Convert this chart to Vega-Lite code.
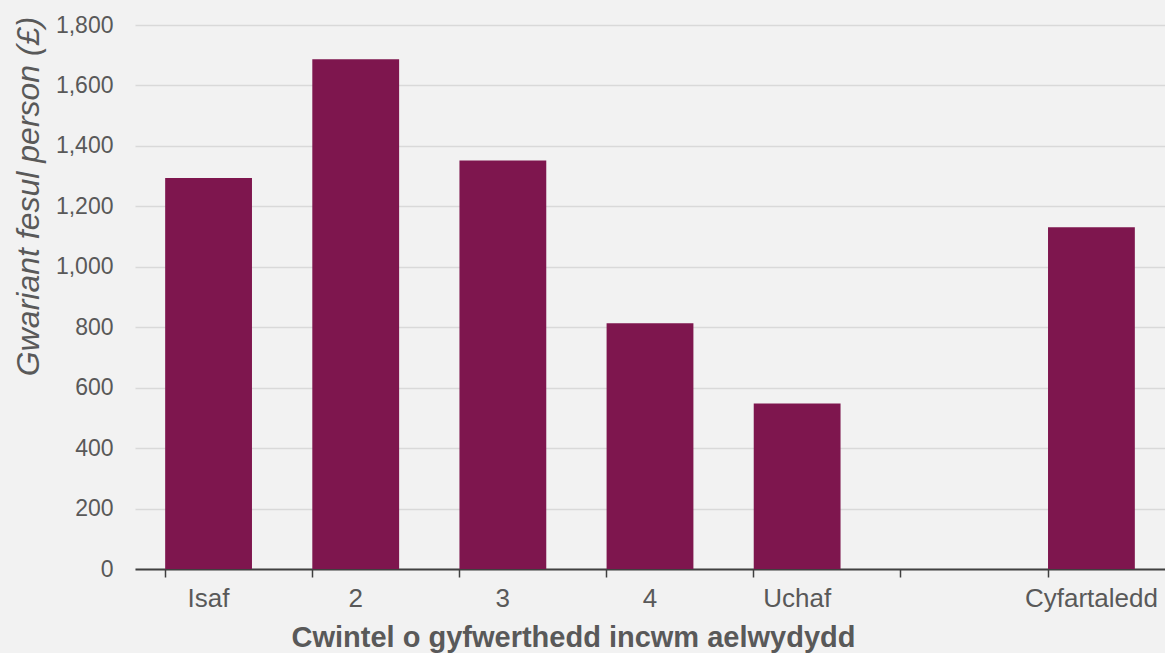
{
  "$schema": "https://vega.github.io/schema/vega-lite/v6.json",
  "autosize": {"type": "none"},
  "width": 1030,
  "height": 544,
  "padding": {"left": 135, "top": 25, "right": 0, "bottom": 84},
  "background": "#f2f2f2",
  "config": {
    "view": {"stroke": null},
    "font": "Liberation Sans"
  },
  "data": {
    "values": [
      {"cwintel": "Isaf", "gwariant": 1294},
      {"cwintel": "2", "gwariant": 1687},
      {"cwintel": "3", "gwariant": 1352},
      {"cwintel": "4", "gwariant": 813},
      {"cwintel": "Uchaf", "gwariant": 548},
      {"cwintel": "Cyfartaledd", "gwariant": 1131}
    ]
  },
  "mark": {"type": "bar", "color": "#7e164e"},
  "encoding": {
    "x": {
      "field": "cwintel",
      "type": "nominal",
      "scale": {
        "domain": ["Isaf", "2", "3", "4", "Uchaf", "gwag", "Cyfartaledd"],
        "paddingInner": 0.41,
        "paddingOuter": 0.205
      },
      "axis": {
        "title": "Cwintel o gyfwerthedd incwm aelwydydd",
        "titleFont": "Liberation Sans",
        "titleFontSize": 29,
        "titleFontWeight": "bold",
        "titleColor": "#595959",
        "titleX": 438,
        "titleY": 77,
        "titleAlign": "center",
        "titleBaseline": "alphabetic",
        "labelAngle": 0,
        "labelFontSize": 26,
        "labelColor": "#595959",
        "labelPadding": 8,
        "labelExpr": "datum.value == 'gwag' ? '' : datum.value",
        "bandPosition": 0,
        "ticks": true,
        "tickSize": 8,
        "tickColor": "#404040",
        "tickWidth": 1.5,
        "domainColor": "#404040",
        "domainWidth": 2,
        "grid": false
      }
    },
    "y": {
      "field": "gwariant",
      "type": "quantitative",
      "scale": {"domain": [0, 1800]},
      "axis": {
        "title": "Gwariant fesul person (£)",
        "titleFont": "Liberation Sans",
        "titleFontSize": 32,
        "titleFontWeight": "normal",
        "titleFontStyle": "italic",
        "titleColor": "#595959",
        "titleX": -107,
        "titleY": 171,
        "titleAngle": -90,
        "titleBaseline": "middle",
        "titleAlign": "center",
        "values": [0, 200, 400, 600, 800, 1000, 1200, 1400, 1600, 1800],
        "format": ",d",
        "labelFontSize": 23,
        "labelColor": "#595959",
        "labelPadding": 22,
        "ticks": false,
        "domain": false,
        "grid": true,
        "gridColor": "#d9d9d9",
        "gridWidth": 1.5
      }
    }
  }
}
